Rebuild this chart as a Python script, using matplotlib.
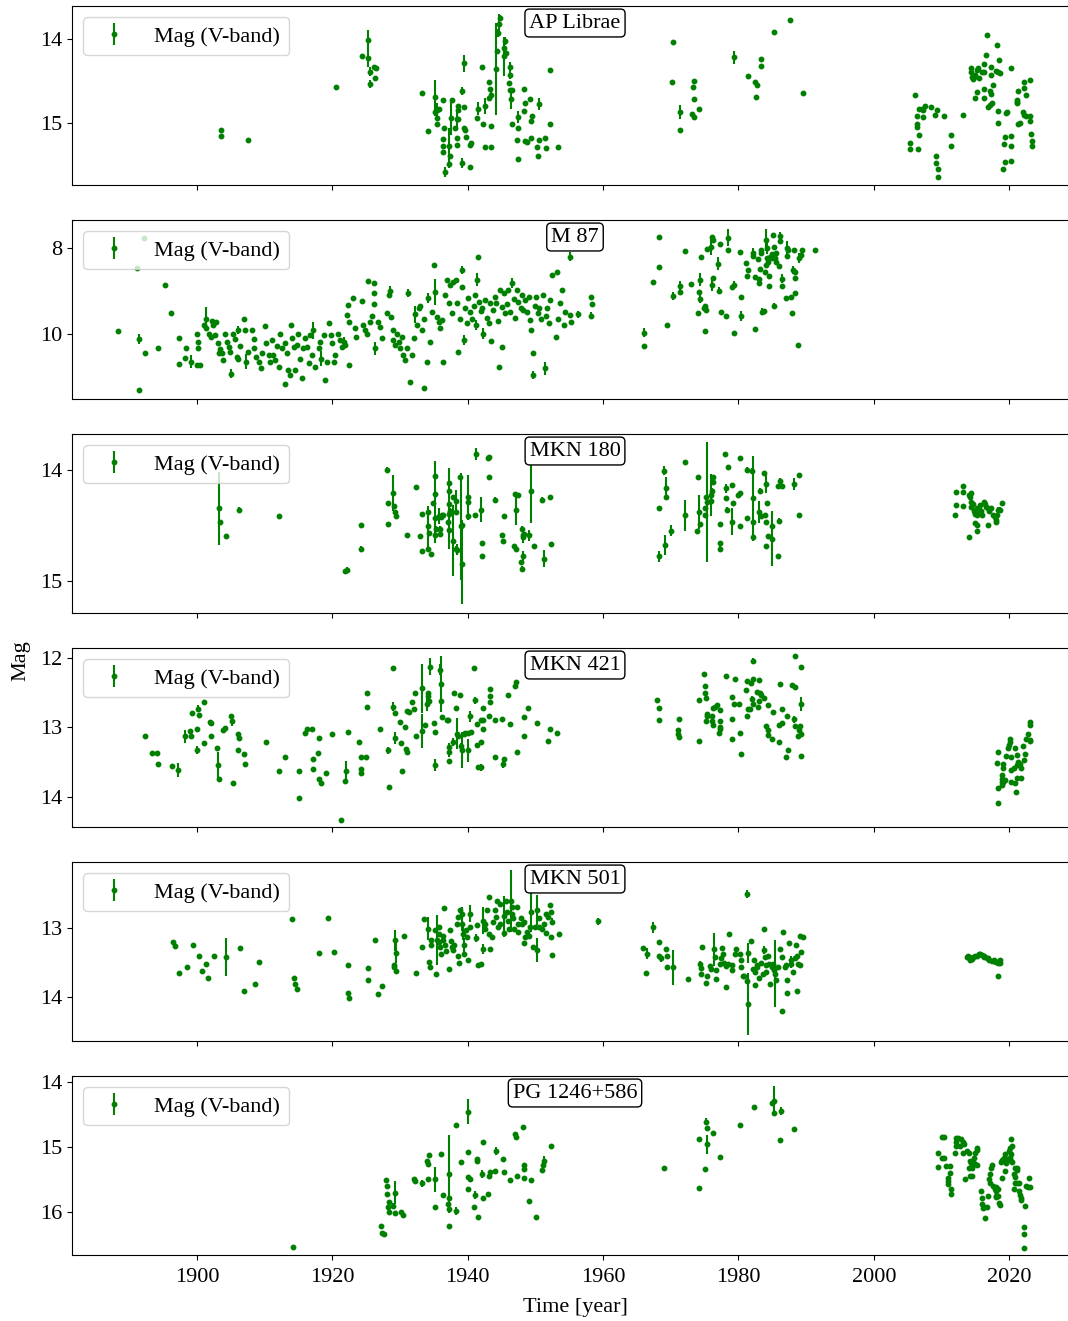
"""
V-band light curves (historic + modern photometry) for six blazars / AGN.
One stacked panel per object, magnitude axis inverted.
"""

import matplotlib

matplotlib.use("Agg")
import matplotlib.pyplot as plt
import numpy as np
from matplotlib.ticker import MultipleLocator

# rows: (year, V mag, mag error)
ap_librae = np.array([
    (1903.5, 15.09, .02), (1903.5, 15.16, .02), (1907.5, 15.21, .02), (1920.5, 14.57, .02),
    (1924.4, 14.20, .02), (1925.3, 14.01, .12), (1925.3, 14.23, .10), (1925.5, 14.39, .05),
    (1925.6, 14.54, .05), (1926.2, 14.34, .02), (1926.5, 14.35, .02), (1926.3, 14.47, .02),
    (1933.2, 14.65, .02), (1934.1, 15.10, .02), (1935.2, 14.69, .20), (1935.2, 14.87, .05),
    (1935.5, 14.85, .08), (1935.7, 14.83, .02), (1935.4, 14.94, .04), (1935.5, 15.02, .02),
    (1936.4, 14.73, .02), (1936.5, 15.06, .02), (1936.4, 15.19, .02), (1936.3, 15.27, .02),
    (1936.3, 15.35, .02), (1936.7, 15.59, .06), (1937.3, 15.28, .22), (1937.4, 15.40, .02),
    (1937.3, 15.49, .05), (1937.7, 14.73, .02), (1937.6, 14.94, .21), (1938.1, 15.06, .02),
    (1938.4, 14.96, .10), (1938.4, 15.18, .02), (1938.4, 15.26, .02), (1938.6, 14.80, .02),
    (1938.6, 14.85, .02), (1938.5, 14.95, .02), (1939.1, 14.62, .05), (1939.4, 14.29, .10),
    (1939.5, 14.81, .02), (1939.4, 15.06, .02), (1939.6, 15.09, .02), (1939.8, 15.17, .02),
    (1940.4, 15.26, .02), (1940.5, 15.24, .02), (1939.2, 15.48, .06), (1940.4, 15.53, .02),
    (1941.3, 14.94, .02), (1941.5, 14.83, .08), (1942.1, 14.33, .02), (1942.5, 14.80, .10),
    (1942.3, 15.02, .02), (1942.5, 15.29, .02), (1943.4, 15.29, .02), (1943.5, 15.04, .02),
    (1943.1, 14.51, .02), (1943.3, 14.60, .02), (1943.1, 14.71, .02), (1943.5, 14.67, .06),
    (1944.2, 14.36, .55), (1944.3, 14.14, .02), (1944.5, 13.93, .05), (1944.6, 13.83, .12),
    (1944.7, 13.75, .03), (1945.3, 14.21, .23), (1945.4, 14.11, .05), (1945.5, 14.03, .05),
    (1945.6, 14.17, .02), (1946.2, 14.33, .05), (1946.3, 14.43, .05), (1946.1, 14.53, .02),
    (1946.3, 14.61, .02), (1946.4, 14.72, .12), (1946.6, 14.61, .02), (1946.6, 15.02, .02),
    (1947.4, 15.06, .02), (1947.5, 14.93, .07), (1947.3, 15.20, .02), (1947.4, 15.43, .02),
    (1948.3, 14.60, .02), (1948.4, 14.76, .02), (1948.3, 14.86, .02), (1948.5, 15.22, .02),
    (1948.8, 15.23, .02), (1949.2, 14.72, .02), (1949.4, 14.98, .02), (1949.5, 14.92, .02),
    (1949.4, 15.18, .02), (1950.2, 15.29, .02), (1950.4, 15.39, .02), (1950.5, 15.20, .02),
    (1950.5, 14.78, .07), (1951.4, 15.18, .02), (1951.6, 15.30, .02), (1952.1, 15.02, .02),
    (1952.2, 14.37, .02), (1953.3, 15.29, .02),
    (1970.3, 14.04, .02), (1970.2, 14.51, .02), (1971.4, 14.87, .08), (1971.3, 15.08, .02),
    (1973.4, 14.50, .02), (1973.3, 14.57, .02), (1973.4, 14.72, .02), (1973.2, 14.89, .02),
    (1973.4, 14.93, .02), (1974.2, 14.83, .02), (1979.4, 14.22, .08), (1981.4, 14.44, .02),
    (1982.5, 14.52, .02), (1982.7, 14.55, .02), (1982.6, 14.69, .02), (1983.4, 14.24, .02),
    (1983.4, 14.32, .02), (1985.3, 13.92, .02), (1987.6, 13.78, .02), (1989.5, 14.64, .02),
    (2006.1, 14.67, .02), (2005.4, 15.24, .02), (2005.4, 15.31, .02), (2006.5, 15.31, .02),
    (2006.3, 14.92, .02), (2006.4, 15.02, .02), (2006.3, 15.05, .02), (2006.6, 15.14, .02),
    (2006.7, 14.83, .02), (2007.1, 14.84, .02), (2007.2, 14.85, .02), (2007.3, 14.93, .02),
    (2007.5, 14.80, .02), (2008.5, 14.81, .02), (2009.0, 14.91, .02), (2009.3, 14.85, .02),
    (2009.2, 15.40, .02), (2009.2, 15.48, .02), (2009.5, 15.55, .02), (2009.4, 15.65, .02),
    (2010.3, 14.92, .02), (2011.4, 15.14, .02), (2011.4, 15.28, .02), (2013.2, 14.91, .02),
    (2014.3, 14.35, .02), (2014.4, 14.39, .02), (2014.5, 14.45, .02), (2014.7, 14.48, .02),
    (2014.8, 14.46, .02), (2015.0, 14.43, .02), (2015.2, 14.37, .02), (2015.4, 14.35, .02),
    (2015.5, 14.47, .02), (2015.9, 14.39, .02), (2016.3, 14.40, .02), (2016.2, 14.30, .02),
    (2016.5, 14.19, .02), (2016.7, 13.95, .02), (2015.2, 14.63, .02), (2015.0, 14.70, .02),
    (2016.2, 14.60, .02), (2016.3, 14.70, .02), (2017.3, 14.34, .02), (2017.3, 14.43, .02),
    (2017.1, 14.62, .02), (2017.3, 14.66, .02), (2016.9, 14.81, .02), (2017.1, 14.79, .02),
    (2017.5, 14.77, .02), (2017.6, 14.55, .02), (2018.2, 14.07, .02), (2018.5, 14.25, .02),
    (2018.1, 14.38, .02), (2018.4, 14.39, .02), (2018.6, 14.41, .02), (2018.3, 14.86, .02),
    (2018.4, 15.00, .02), (2019.6, 14.87, .02), (2019.5, 14.88, .02), (2019.4, 15.17, .02),
    (2020.3, 15.16, .02), (2019.2, 15.25, .02), (2020.3, 15.27, .02), (2020.2, 15.45, .02),
    (2019.3, 15.47, .02), (2019.1, 15.55, .02), (2020.3, 14.35, .02), (2021.1, 14.73, .02),
    (2021.2, 14.75, .02), (2021.3, 14.62, .02), (2021.1, 14.77, .02), (2021.3, 15.02, .02),
    (2021.6, 15.00, .02), (2022.1, 14.87, .02), (2022.2, 14.91, .02), (2022.4, 14.92, .02),
    (2022.2, 14.59, .02), (2022.4, 14.67, .02), (2022.2, 14.51, .02), (2023.1, 14.49, .02),
    (2023.1, 14.92, .02), (2023.1, 14.98, .02), (2023.2, 15.13, .02), (2023.4, 15.22, .02),
    (2023.4, 15.28, .02),
])

m87 = np.array([
    (1888.3, 9.92, .02), (1891.4, 10.12, .12), (1891.5, 11.30, .02), (1891.2, 8.47, .02),
    (1892.2, 7.76, .02), (1892.3, 10.43, .02), (1894.2, 10.32, .02), (1895.3, 8.85, .02),
    (1896.1, 9.50, .02), (1897.3, 10.10, .02), (1897.4, 10.70, .02), (1898.3, 10.55, .02),
    (1898.4, 10.32, .02), (1899.1, 10.64, .15), (1900.0, 9.99, .02), (1900.1, 10.18, .02),
    (1900.2, 10.33, .02), (1900.0, 10.72, .02), (1900.5, 10.71, .02), (1901.0, 9.79, .02),
    (1901.4, 9.64, .26), (1901.4, 9.87, .02), (1901.8, 9.99, .02), (1902.2, 9.70, .02),
    (1902.4, 9.79, .02), (1902.8, 9.73, .02), (1902.1, 10.06, .02), (1902.7, 10.02, .02),
    (1903.1, 10.22, .02), (1903.4, 10.35, .02), (1903.2, 10.45, .02), (1903.7, 10.45, .02),
    (1903.9, 10.60, .02), (1904.2, 9.99, .02), (1904.4, 10.18, .02), (1904.7, 10.30, .02),
    (1904.9, 10.41, .02), (1905.0, 10.92, .10), (1905.4, 9.99, .02), (1905.6, 10.12, .02),
    (1906.0, 9.91, .10), (1905.9, 10.53, .02), (1906.1, 10.57, .02), (1906.4, 10.28, .02),
    (1907.0, 9.64, .02), (1907.1, 9.91, .02), (1907.3, 10.64, .18), (1907.5, 10.41, .02),
    (1908.1, 9.91, .02), (1908.4, 10.12, .02), (1908.5, 10.33, .02), (1908.8, 10.53, .02),
    (1909.1, 10.64, .02), (1909.4, 10.80, .02), (1909.6, 10.45, .02), (1910.0, 9.81, .02),
    (1910.2, 10.22, .02), (1910.6, 10.49, .02), (1910.8, 10.64, .02), (1911.1, 10.14, .02),
    (1911.3, 10.49, .02), (1911.6, 10.60, .02), (1911.8, 10.28, .02), (1912.1, 10.76, .02),
    (1912.3, 9.99, .02), (1912.6, 10.33, .02), (1913.0, 11.17, .02), (1913.0, 10.22, .02),
    (1913.3, 10.45, .02), (1913.4, 10.84, .02), (1913.8, 10.95, .02), (1913.9, 9.79, .02),
    (1914.0, 10.10, .02), (1914.3, 10.30, .02), (1914.5, 10.84, .02), (1914.8, 10.26, .02),
    (1915.0, 9.99, .02), (1915.2, 10.57, .02), (1915.5, 11.03, .02), (1915.7, 10.33, .02),
    (1916.0, 10.10, .02), (1916.2, 10.30, .02), (1916.5, 10.68, .02), (1916.7, 10.02, .02),
    (1917.0, 10.49, .02), (1917.1, 9.91, .20), (1917.4, 10.76, .02), (1918.0, 10.33, .02),
    (1918.2, 10.18, .02), (1918.4, 10.57, .17), (1918.7, 10.02, .02), (1918.9, 11.07, .02),
    (1919.2, 10.64, .02), (1919.5, 9.75, .02), (1919.8, 10.02, .02), (1920.0, 10.22, .02),
    (1920.2, 10.64, .02), (1920.4, 10.49, .02), (1920.9, 9.99, .02), (1921.2, 10.14, .02),
    (1921.4, 10.30, .02), (1921.7, 10.18, .12), (1921.9, 10.26, .02), (1922.1, 9.56, .02),
    (1922.3, 9.33, .02), (1922.4, 9.71, .02), (1922.5, 10.72, .02), (1923.0, 9.17, .02),
    (1923.3, 9.87, .02), (1923.5, 10.06, .02), (1924.4, 9.23, .02), (1924.6, 9.79, .02),
    (1924.9, 9.91, .02), (1925.1, 9.99, .02), (1925.3, 8.76, .02), (1925.6, 9.71, .02),
    (1925.8, 9.58, .02), (1926.1, 8.81, .02), (1926.1, 9.05, .02), (1926.2, 9.31, .02),
    (1926.3, 10.33, .15), (1926.8, 9.71, .02), (1927.1, 9.83, .02), (1927.3, 10.10, .02),
    (1928.1, 9.52, .02), (1928.3, 9.09, .02), (1928.5, 9.00, .12), (1928.7, 9.60, .02),
    (1928.9, 9.91, .02), (1929.0, 10.14, .02), (1929.2, 10.26, .02), (1929.5, 9.99, .02),
    (1929.8, 10.18, .02), (1930.0, 10.33, .02), (1930.3, 10.06, .02), (1930.5, 10.49, .02),
    (1930.8, 10.60, .02), (1931.0, 10.33, .02), (1931.2, 9.05, .10), (1931.5, 11.11, .02),
    (1931.8, 10.49, .02), (1932.0, 10.10, .02), (1932.2, 9.54, .20), (1932.5, 9.79, .02),
    (1932.8, 9.40, .02), (1933.0, 9.35, .02), (1933.2, 9.91, .02), (1933.5, 11.26, .02),
    (1933.6, 9.64, .02), (1934.0, 10.64, .02), (1934.2, 9.17, .12), (1934.5, 10.18, .02),
    (1934.7, 9.48, .02), (1935.0, 8.40, .02), (1935.1, 9.02, .30), (1935.4, 9.61, .02),
    (1935.7, 9.71, .02), (1935.9, 9.87, .02), (1936.2, 9.68, .02), (1936.4, 10.64, .02),
    (1936.7, 9.09, .02), (1936.9, 8.74, .02), (1937.2, 9.29, .02), (1937.4, 8.86, .02),
    (1937.7, 9.50, .02), (1937.9, 8.78, .02), (1938.2, 8.74, .02), (1938.4, 9.29, .02),
    (1938.6, 10.41, .02), (1938.9, 9.66, .02), (1939.1, 8.90, .02), (1939.2, 8.51, .10),
    (1939.4, 10.14, .12), (1939.6, 9.40, .02), (1939.9, 9.75, .02), (1940.1, 9.17, .02),
    (1940.4, 9.48, .02), (1940.6, 9.64, .02), (1940.9, 9.36, .02), (1941.1, 9.09, .02),
    (1941.2, 9.79, .12), (1941.4, 8.74, .15), (1941.5, 8.20, .02), (1941.6, 9.25, .02),
    (1941.9, 9.47, .02), (1942.1, 9.40, .02), (1942.3, 9.99, .12), (1942.6, 9.20, .02),
    (1942.8, 9.62, .02), (1943.1, 9.75, .02), (1943.3, 9.29, .02), (1943.5, 10.16, .02),
    (1943.7, 9.44, .02), (1944.0, 9.14, .02), (1944.2, 9.28, .02), (1944.5, 9.70, .02),
    (1944.6, 10.76, .02), (1944.8, 8.98, .02), (1945.0, 10.30, .02), (1945.1, 9.38, .02),
    (1945.3, 9.05, .02), (1945.5, 9.52, .02), (1945.8, 9.30, .02), (1946.0, 8.98, .02),
    (1946.3, 9.48, .02), (1946.5, 8.82, .12), (1946.8, 9.19, .02), (1947.0, 9.63, .02),
    (1947.3, 8.98, .02), (1947.5, 9.25, .02), (1947.8, 9.40, .02), (1948.0, 9.09, .02),
    (1948.2, 9.45, .02), (1948.5, 9.21, .02), (1948.7, 9.48, .02), (1949.0, 9.13, .02),
    (1949.2, 9.68, .02), (1949.4, 9.91, .02), (1949.6, 10.43, .02), (1949.6, 10.95, .10),
    (1949.9, 9.35, .02), (1950.1, 9.15, .02), (1950.4, 9.51, .02), (1950.6, 9.40, .02),
    (1950.9, 9.64, .02), (1951.1, 9.09, .02), (1951.4, 10.80, .15), (1951.5, 9.59, .02),
    (1951.7, 9.40, .02), (1952.0, 9.75, .02), (1952.2, 9.21, .02), (1952.5, 8.63, .02),
    (1953.0, 10.06, .02), (1953.2, 8.57, .02), (1953.4, 9.66, .02), (1953.7, 9.27, .02),
    (1953.9, 8.98, .02), (1954.2, 9.79, .02), (1954.4, 9.48, .02), (1955.1, 8.20, .10),
    (1955.1, 9.56, .02), (1955.3, 9.73, .02), (1956.3, 9.54, .08), (1958.2, 9.13, .02),
    (1958.3, 9.30, .02), (1958.2, 9.57, .08),
    (1966.1, 9.97, .10), (1966.0, 10.28, .02), (1967.3, 8.80, .02), (1968.2, 7.75, .02),
    (1968.3, 8.45, .02), (1969.5, 9.80, .02), (1970.4, 9.12, .10), (1971.3, 8.88, .12),
    (1971.3, 9.03, .02), (1972.1, 8.06, .02), (1973.0, 8.84, .02), (1974.0, 9.50, .02),
    (1974.2, 9.02, .02), (1974.3, 8.74, .15), (1974.3, 9.19, .10), (1974.4, 8.22, .02),
    (1974.9, 9.40, .02), (1975.1, 9.36, .02), (1975.2, 9.45, .02), (1975.0, 9.94, .02),
    (1975.4, 8.02, .02), (1976.0, 7.97, .20), (1976.1, 7.74, .02), (1976.2, 7.81, .02),
    (1976.1, 8.85, .15), (1976.3, 8.69, .02), (1977.0, 8.37, .15), (1977.1, 8.99, .08),
    (1977.3, 7.91, .02), (1977.4, 9.49, .02), (1978.2, 9.59, .02), (1978.4, 7.76, .20),
    (1978.5, 8.05, .02), (1979.1, 8.90, .02), (1979.3, 8.85, .08), (1979.3, 9.97, .02),
    (1980.2, 8.09, .02), (1980.3, 9.58, .12), (1980.3, 9.13, .02), (1981.1, 8.35, .02),
    (1981.3, 8.65, .02), (1981.4, 8.51, .02), (1982.1, 8.11, .10), (1982.2, 8.18, .02),
    (1982.4, 8.67, .02), (1982.5, 9.88, .02), (1982.9, 8.26, .02), (1983.0, 8.73, .02),
    (1983.1, 8.82, .02), (1983.2, 8.50, .02), (1983.3, 8.05, .02), (1983.4, 8.11, .02),
    (1983.5, 9.48, .08), (1983.7, 9.46, .02), (1983.9, 8.55, .02), (1984.0, 8.40, .02),
    (1984.1, 7.81, .25), (1984.2, 8.01, .12), (1984.2, 8.24, .02), (1984.4, 8.32, .02),
    (1984.5, 8.64, .02), (1984.5, 8.88, .02), (1984.6, 8.22, .02), (1984.9, 8.14, .02),
    (1985.0, 8.24, .02), (1985.1, 7.71, .02), (1985.2, 7.97, .02), (1985.3, 9.35, .08),
    (1985.4, 8.24, .02), (1985.5, 8.12, .02), (1985.6, 8.32, .02), (1986.0, 8.41, .02),
    (1986.1, 7.72, .08), (1986.2, 7.83, .02), (1986.4, 8.88, .02), (1986.5, 8.71, .10),
    (1987.0, 9.17, .02), (1987.2, 8.01, .18), (1987.2, 8.18, .02), (1987.3, 8.05, .02),
    (1987.8, 9.13, .02), (1987.9, 9.50, .02), (1988.1, 8.51, .10), (1988.3, 8.55, .02),
    (1988.4, 9.05, .02), (1988.2, 8.05, .02), (1988.3, 8.69, .02), (1988.8, 10.26, .02),
    (1989.0, 8.24, .12), (1989.2, 8.16, .02), (1989.4, 8.05, .02), (1991.3, 8.05, .02),
])

mkn_180 = np.array([
    (1903.3, 14.35, .33), (1903.4, 14.47, .02), (1904.3, 14.60, .02), (1906.2, 14.36, .02),
    (1912.1, 14.42, .02), (1921.9, 14.91, .02), (1922.1, 14.90, .02), (1924.2, 14.71, .02),
    (1924.3, 14.50, .02), (1928.1, 14.00, .02), (1928.2, 14.30, .02), (1928.2, 14.49, .02),
    (1929.0, 14.21, .16), (1929.1, 14.33, .02), (1929.3, 14.38, .02), (1929.4, 14.42, .02),
    (1931.0, 14.59, .02), (1932.3, 14.16, .02), (1933.0, 14.60, .02), (1933.2, 14.40, .02),
    (1933.2, 14.73, .02), (1934.1, 14.51, .18), (1934.2, 14.38, .02), (1934.3, 14.57, .02),
    (1934.2, 14.71, .02), (1934.6, 14.76, .02), (1934.9, 14.30, .02), (1935.1, 14.22, .02),
    (1935.2, 14.06, .14), (1935.2, 14.44, .22), (1935.1, 14.59, .02), (1935.3, 14.53, .02),
    (1935.8, 14.42, .07), (1935.9, 14.53, .02), (1936.1, 14.43, .02), (1936.2, 14.41, .02),
    (1936.3, 14.41, .02), (1935.9, 14.58, .02), (1937.1, 14.47, .02), (1937.2, 14.54, .17),
    (1937.3, 14.31, .32), (1937.3, 14.19, .02), (1937.3, 14.12, .02), (1937.3, 14.40, .02),
    (1937.4, 14.37, .02), (1937.9, 14.25, .02), (1937.9, 14.64, .32), (1938.2, 14.38, .02),
    (1938.3, 14.28, .10), (1938.3, 14.71, .02), (1938.4, 14.72, .05), (1938.9, 14.07, .02),
    (1939.1, 14.50, .05), (1939.0, 14.51, .48), (1939.2, 14.85, .36), (1940.0, 14.25, .20),
    (1940.1, 14.29, .02), (1940.0, 14.42, .02), (1941.2, 13.86, .05), (1941.1, 14.41, .02),
    (1941.9, 14.36, .11), (1942.1, 14.66, .02), (1942.1, 14.78, .02), (1943.0, 13.90, .02),
    (1943.2, 13.89, .02), (1943.2, 14.07, .02), (1944.0, 14.27, .02), (1945.1, 14.59, .02),
    (1945.2, 14.64, .02), (1945.4, 14.42, .02), (1947.0, 14.22, .02), (1947.4, 14.23, .02),
    (1947.1, 14.36, .14), (1946.9, 14.69, .02), (1947.2, 14.71, .02), (1948.0, 14.53, .02),
    (1948.1, 14.59, .02), (1948.3, 14.58, .02), (1948.1, 14.61, .05), (1947.9, 14.83, .02),
    (1948.1, 14.78, .05), (1948.0, 14.89, .02), (1949.1, 14.59, .05), (1949.3, 14.19, .29),
    (1949.8, 14.69, .02), (1951.0, 14.27, .02), (1951.3, 14.80, .08), (1952.2, 14.25, .02),
    (1952.3, 14.67, .02),
    (1968.2, 14.78, .05), (1969.1, 14.68, .09), (1968.3, 14.35, .02), (1969.0, 14.01, .04),
    (1969.3, 14.17, .10), (1969.3, 14.25, .02), (1970.0, 14.55, .05), (1972.1, 13.93, .02),
    (1972.1, 14.41, .14), (1974.0, 14.07, .02), (1973.9, 14.55, .02), (1974.2, 14.38, .15),
    (1974.3, 14.49, .02), (1975.0, 14.35, .02), (1975.2, 14.25, .02), (1975.3, 14.29, .54),
    (1975.1, 14.41, .02), (1976.0, 14.23, .19), (1976.1, 14.19, .02), (1976.3, 14.11, .02),
    (1976.3, 14.07, .02), (1975.9, 14.28, .02), (1977.3, 14.49, .02), (1977.2, 14.66, .02),
    (1977.2, 14.71, .02), (1978.0, 13.86, .02), (1978.2, 14.17, .04), (1978.1, 14.26, .02),
    (1978.3, 14.36, .02), (1978.5, 13.98, .02), (1979.1, 14.14, .02), (1979.2, 14.30, .02),
    (1979.1, 14.47, .12), (1980.0, 14.23, .02), (1980.2, 14.21, .02), (1980.2, 13.90, .02),
    (1980.2, 14.51, .02), (1981.3, 14.44, .02), (1981.3, 14.00, .02), (1982.0, 14.01, .02),
    (1982.2, 14.26, .38), (1982.2, 14.47, .02), (1982.1, 14.61, .02), (1983.1, 14.38, .10),
    (1983.2, 14.19, .02), (1983.3, 14.42, .02), (1983.8, 14.03, .02), (1984.1, 14.13, .08),
    (1984.2, 14.30, .02), (1983.9, 14.41, .02), (1984.0, 14.47, .02), (1984.1, 14.69, .02),
    (1984.4, 14.60, .02), (1984.9, 14.62, .25), (1985.0, 14.51, .02), (1986.0, 14.46, .02),
    (1985.8, 14.78, .02), (1985.9, 14.15, .02), (1986.4, 14.15, .02), (1986.2, 14.10, .02),
    (1988.2, 14.13, .05), (1989.0, 14.05, .02), (1988.9, 14.41, .02),
    (2012.0, 14.41, .02), (2012.1, 14.20, .02), (2012.2, 14.32, .02), (2013.1, 14.15, .02),
    (2013.2, 14.20, .02), (2013.1, 14.33, .02), (2014.0, 14.61, .02), (2014.1, 14.23, .02),
    (2014.3, 14.21, .02), (2014.2, 14.25, .02), (2014.4, 14.29, .02), (2014.3, 14.34, .02),
    (2014.7, 14.31, .02), (2014.8, 14.37, .02), (2014.9, 14.40, .02), (2015.1, 14.38, .02),
    (2015.2, 14.41, .02), (2014.9, 14.48, .02), (2015.2, 14.50, .02), (2015.2, 14.55, .02),
    (2015.3, 14.35, .02), (2015.7, 14.32, .02), (2015.8, 14.37, .02), (2015.9, 14.41, .02),
    (2016.2, 14.29, .02), (2016.4, 14.31, .02), (2016.5, 14.34, .02), (2016.8, 14.35, .02),
    (2017.0, 14.37, .02), (2017.3, 14.35, .02), (2016.9, 14.50, .02), (2017.6, 14.41, .02),
    (2017.9, 14.43, .02), (2018.0, 14.45, .02), (2018.1, 14.47, .02), (2018.2, 14.41, .02),
    (2018.4, 14.36, .02), (2018.7, 14.36, .02), (2018.9, 14.30, .02),
])

mkn_421 = np.array([
    (1892.4, 13.13, .02), (1893.3, 13.37, .02), (1894.1, 13.37, .02), (1894.2, 13.53, .02),
    (1896.3, 13.55, .02), (1897.2, 13.61, .10), (1898.2, 13.13, .09), (1899.0, 13.05, .02),
    (1899.1, 13.13, .02), (1899.3, 12.79, .02), (1900.0, 13.02, .02), (1900.0, 13.32, .06),
    (1900.1, 12.73, .05), (1900.3, 12.82, .02), (1901.1, 12.64, .02), (1901.1, 13.22, .02),
    (1902.0, 12.92, .02), (1902.1, 12.94, .02), (1902.1, 13.13, .02), (1903.0, 13.29, .02),
    (1903.1, 13.54, .19), (1903.2, 13.74, .02), (1903.9, 13.04, .02), (1904.2, 13.01, .02),
    (1905.0, 12.83, .02), (1905.2, 12.91, .07), (1905.3, 13.80, .02), (1906.1, 13.10, .02),
    (1906.2, 13.15, .02), (1906.1, 13.33, .02), (1907.0, 13.38, .02), (1907.1, 13.53, .02),
    (1910.2, 13.21, .02), (1912.1, 13.63, .02), (1913.0, 13.42, .02), (1915.1, 13.63, .02),
    (1915.1, 14.01, .02), (1916.0, 13.08, .02), (1916.2, 13.02, .02), (1917.0, 13.03, .02),
    (1917.1, 13.45, .02), (1917.1, 13.60, .02), (1917.9, 13.37, .02), (1918.1, 13.15, .02),
    (1918.0, 13.74, .02), (1918.3, 13.80, .02), (1919.1, 13.65, .02), (1920.0, 13.09, .02),
    (1921.3, 14.33, .02), (1922.0, 13.62, .14), (1921.9, 13.77, .02), (1922.3, 13.07, .02),
    (1924.0, 13.21, .02), (1924.3, 13.43, .02), (1925.0, 13.43, .02), (1924.2, 13.60, .02),
    (1924.2, 13.65, .02), (1925.1, 12.70, .02), (1925.1, 12.50, .02), (1927.1, 13.03, .02),
    (1928.2, 13.33, .05), (1928.3, 13.86, .02), (1929.0, 12.15, .02), (1929.0, 12.70, .06),
    (1929.2, 12.80, .02), (1929.2, 13.15, .09), (1930.0, 12.92, .02), (1930.2, 13.22, .02),
    (1930.3, 13.62, .02), (1930.8, 13.00, .02), (1930.9, 13.31, .02), (1931.0, 13.36, .02),
    (1931.0, 12.77, .02), (1931.3, 12.78, .02), (1931.8, 12.63, .02), (1932.1, 12.73, .02),
    (1932.2, 12.50, .02), (1932.3, 13.13, .02), (1933.3, 12.44, .35), (1933.2, 13.05, .24),
    (1933.7, 12.97, .02), (1934.0, 12.67, .10), (1934.1, 12.55, .02), (1934.2, 12.50, .02),
    (1934.3, 12.62, .02), (1934.4, 12.13, .12), (1935.0, 12.94, .02), (1935.1, 13.07, .02),
    (1935.2, 13.54, .08), (1935.9, 12.17, .08), (1936.1, 12.38, .40), (1936.1, 12.62, .02),
    (1936.2, 12.85, .02), (1937.0, 12.89, .02), (1937.1, 12.90, .02), (1937.2, 13.28, .06),
    (1937.3, 13.36, .06), (1937.3, 13.48, .02), (1937.9, 13.21, .06), (1938.0, 12.50, .02),
    (1938.2, 12.72, .02), (1938.4, 13.09, .22), (1938.6, 13.13, .02), (1938.9, 12.54, .02),
    (1939.0, 13.27, .05), (1939.1, 13.32, .26), (1939.4, 13.10, .02), (1939.6, 13.08, .02),
    (1940.0, 13.33, .17), (1940.1, 13.08, .02), (1940.3, 12.84, .08), (1940.5, 13.06, .02),
    (1941.0, 12.14, .02), (1941.1, 12.61, .05), (1941.3, 12.95, .02), (1941.4, 13.25, .02),
    (1941.5, 13.57, .02), (1941.9, 13.57, .05), (1942.0, 12.90, .02), (1942.2, 12.89, .02),
    (1942.0, 13.21, .02), (1942.2, 13.03, .02), (1942.2, 12.72, .02), (1943.1, 12.83, .02),
    (1943.3, 12.55, .02), (1943.3, 12.45, .02), (1943.3, 12.64, .02), (1944.0, 12.90, .02),
    (1944.1, 13.43, .02), (1945.1, 12.88, .02), (1945.2, 13.53, .05), (1945.3, 13.46, .02),
    (1946.0, 12.53, .02), (1946.3, 12.95, .02), (1947.0, 12.41, .02), (1947.2, 12.35, .02),
    (1947.3, 13.35, .02), (1948.3, 12.85, .02), (1948.3, 13.13, .02), (1948.9, 12.72, .02),
    (1950.2, 12.93, .02), (1951.9, 13.20, .02), (1952.2, 13.03, .02), (1953.2, 13.08, .02),
    (1968.0, 12.61, .02), (1968.2, 12.72, .02), (1968.3, 12.89, .02), (1971.2, 12.88, .02),
    (1971.0, 13.04, .02), (1971.1, 13.10, .02), (1971.2, 13.14, .02), (1974.1, 13.19, .02),
    (1974.1, 12.60, .02), (1974.9, 12.23, .02), (1975.1, 12.41, .02), (1975.1, 12.50, .02),
    (1975.2, 12.58, .02), (1975.3, 12.81, .02), (1975.4, 12.83, .02), (1975.2, 12.91, .02),
    (1976.1, 12.84, .02), (1976.1, 12.91, .02), (1976.2, 12.97, .02), (1976.3, 12.72, .02),
    (1976.5, 12.70, .02), (1976.9, 12.68, .02), (1977.2, 12.75, .02), (1977.2, 12.91, .02),
    (1977.2, 12.99, .02), (1977.3, 13.02, .02), (1977.1, 13.08, .02), (1978.2, 12.26, .02),
    (1979.5, 12.30, .02), (1979.1, 12.57, .02), (1979.3, 12.66, .02), (1980.1, 12.66, .02),
    (1979.1, 12.88, .02), (1979.1, 13.17, .02), (1980.2, 13.08, .02), (1980.3, 13.38, .02),
    (1981.2, 12.34, .02), (1981.8, 12.36, .02), (1982.1, 12.31, .02), (1983.0, 12.32, .02),
    (1981.1, 12.46, .02), (1982.2, 12.05, .04), (1982.0, 12.59, .04), (1982.2, 12.66, .02),
    (1981.4, 12.74, .02), (1981.7, 12.73, .02), (1981.3, 12.84, .02), (1982.8, 12.49, .02),
    (1983.2, 12.51, .02), (1983.4, 12.54, .02), (1983.7, 12.58, .02), (1983.0, 12.62, .02),
    (1982.9, 12.71, .02), (1984.3, 12.68, .02), (1984.0, 12.98, .02), (1984.3, 13.04, .02),
    (1984.4, 13.11, .02), (1985.0, 13.17, .02), (1985.1, 12.78, .02), (1986.1, 12.37, .02),
    (1986.4, 12.73, .02), (1986.0, 12.96, .02), (1986.4, 12.94, .02), (1986.0, 13.21, .02),
    (1987.1, 12.84, .02), (1987.3, 13.32, .02), (1987.0, 13.42, .02), (1987.9, 12.39, .02),
    (1988.3, 12.42, .02), (1988.3, 11.98, .02), (1988.2, 12.88, .05), (1988.3, 12.98, .02),
    (1989.2, 12.66, .10), (1989.1, 12.98, .02), (1989.0, 13.04, .02), (1988.8, 13.12, .02),
    (1989.2, 13.10, .02), (1989.2, 13.41, .02), (1989.3, 12.13, .02),
    (2018.4, 14.08, .02), (2018.3, 13.87, .02), (2018.2, 13.51, .02), (2018.3, 13.36, .02),
    (2018.9, 13.68, .02), (2019.0, 13.74, .02), (2019.1, 13.78, .02), (2018.9, 13.79, .02),
    (2019.3, 13.76, .02), (2019.0, 13.82, .02), (2019.1, 13.53, .02), (2019.1, 13.58, .02),
    (2019.5, 13.41, .02), (2019.8, 13.30, .02), (2020.0, 13.25, .02), (2020.1, 13.17, .02),
    (2020.1, 13.21, .02), (2020.2, 13.42, .02), (2020.8, 13.30, .02), (2021.1, 13.39, .02),
    (2020.3, 13.61, .02), (2020.7, 13.58, .02), (2021.1, 13.54, .02), (2021.3, 13.50, .02),
    (2021.6, 13.52, .02), (2021.8, 13.58, .02), (2020.3, 13.79, .02), (2020.8, 13.80, .02),
    (2021.1, 13.72, .02), (2021.7, 13.73, .02), (2021.0, 13.93, .02), (2022.1, 13.26, .02),
    (2022.3, 13.38, .02), (2022.2, 13.47, .02), (2022.5, 13.17, .02), (2023.0, 13.18, .02),
    (2023.1, 13.20, .02), (2022.8, 13.09, .02), (2023.0, 12.92, .02), (2023.1, 12.96, .02),
])

mkn_501 = np.array([
    (1896.5, 13.20, .02), (1896.8, 13.26, .02), (1897.4, 13.65, .02), (1898.5, 13.57, .02),
    (1899.4, 13.24, .02), (1900.3, 13.41, .02), (1900.7, 13.62, .02), (1901.4, 13.52, .02),
    (1901.6, 13.73, .02), (1902.5, 13.40, .02), (1904.3, 13.42, .27), (1906.4, 13.29, .02),
    (1906.9, 13.91, .02), (1908.6, 13.81, .02), (1909.1, 13.49, .02), (1914.0, 12.87, .02),
    (1914.4, 13.73, .02), (1914.5, 13.81, .02), (1914.8, 13.88, .02), (1918.1, 13.36, .02),
    (1919.3, 12.86, .02), (1920.2, 13.34, .02), (1922.3, 13.53, .02), (1922.3, 13.94, .02),
    (1922.5, 14.01, .02), (1925.2, 13.58, .02), (1925.3, 13.75, .02), (1926.3, 13.18, .02),
    (1926.7, 13.96, .02), (1927.3, 13.84, .02), (1929.1, 13.53, .02), (1929.1, 13.57, .02),
    (1929.3, 13.18, .15), (1929.4, 13.36, .15), (1929.4, 13.62, .02), (1930.6, 13.11, .02),
    (1932.3, 13.65, .02), (1933.2, 13.27, .02), (1933.6, 12.87, .02), (1934.1, 13.01, .17),
    (1934.3, 13.49, .02), (1934.5, 13.56, .02), (1934.6, 13.18, .02), (1934.6, 13.24, .02),
    (1935.1, 13.03, .02), (1935.3, 13.66, .02), (1935.4, 13.17, .36), (1935.7, 12.99, .02),
    (1935.7, 13.08, .02), (1935.7, 13.20, .02), (1935.9, 13.27, .02), (1936.1, 13.37, .02),
    (1936.4, 13.18, .02), (1936.4, 13.12, .02), (1936.7, 13.25, .02), (1936.5, 12.71, .02),
    (1936.8, 13.33, .02), (1937.2, 13.60, .02), (1937.4, 13.03, .02), (1937.6, 13.19, .02),
    (1937.7, 13.28, .02), (1937.8, 13.32, .02), (1938.0, 13.24, .02), (1938.4, 12.94, .02),
    (1938.5, 12.84, .02), (1938.5, 13.41, .02), (1938.7, 13.51, .02), (1938.8, 12.74, .02),
    (1939.1, 12.79, .10), (1939.2, 12.94, .10), (1939.3, 13.08, .10), (1939.4, 13.25, .10),
    (1939.5, 13.37, .02), (1939.8, 13.03, .02), (1939.9, 13.13, .02), (1940.1, 13.46, .02),
    (1940.3, 12.79, .12), (1940.4, 12.99, .02), (1941.2, 13.14, .06), (1941.3, 12.95, .02),
    (1941.5, 13.54, .02), (1942.0, 13.52, .02), (1942.2, 13.30, .07), (1942.3, 12.89, .20),
    (1942.5, 12.94, .02), (1942.5, 13.01, .02), (1942.8, 12.73, .02), (1943.1, 13.08, .02),
    (1943.2, 12.55, .02), (1943.3, 13.30, .02), (1943.6, 13.13, .02), (1943.7, 12.91, .02),
    (1944.1, 12.74, .02), (1944.2, 12.84, .02), (1944.3, 12.60, .02), (1944.5, 12.99, .02),
    (1944.7, 12.65, .02), (1944.8, 12.94, .02), (1945.4, 12.83, .30), (1945.4, 13.07, .02),
    (1945.6, 12.60, .02), (1945.8, 12.77, .02), (1945.9, 12.89, .02), (1946.1, 13.01, .02),
    (1946.4, 12.60, .45), (1946.5, 12.70, .02), (1946.6, 12.79, .02), (1946.7, 12.86, .02),
    (1946.9, 13.01, .02), (1947.3, 12.70, .02), (1947.4, 13.06, .02), (1947.5, 12.94, .02),
    (1947.8, 12.86, .02), (1948.0, 12.94, .02), (1948.3, 12.91, .02), (1948.3, 13.21, .02),
    (1948.5, 13.13, .02), (1948.7, 13.06, .02), (1949.0, 13.11, .02), (1949.2, 12.99, .02),
    (1949.4, 12.77, .29), (1949.6, 13.27, .02), (1949.9, 12.99, .02), (1950.2, 13.32, .17),
    (1950.3, 12.74, .22), (1950.5, 12.86, .02), (1950.6, 12.99, .02), (1951.0, 13.01, .02),
    (1951.2, 12.94, .02), (1951.5, 12.79, .02), (1951.6, 13.07, .02), (1951.9, 12.84, .02),
    (1952.2, 12.67, .02), (1952.3, 12.77, .02), (1952.5, 12.91, .05), (1952.3, 13.13, .02),
    (1952.5, 13.39, .02), (1953.5, 13.09, .02),
    (1959.3, 12.90, .05), (1981.2, 12.51, .06), (1981.4, 14.10, .45), (1965.9, 13.29, .02),
    (1966.5, 13.37, .08), (1966.4, 13.65, .02), (1967.4, 12.99, .08), (1968.3, 13.20, .02),
    (1968.2, 13.40, .02), (1968.5, 13.44, .05), (1969.3, 13.30, .02), (1969.4, 13.41, .02),
    (1969.5, 13.57, .02), (1970.4, 13.57, .25), (1972.5, 13.74, .02), (1974.3, 13.52, .04),
    (1974.4, 13.58, .04), (1974.6, 13.27, .02), (1974.5, 13.66, .02), (1975.2, 13.80, .02),
    (1975.4, 13.70, .02), (1975.8, 13.55, .02), (1976.0, 13.59, .02), (1976.4, 13.31, .24),
    (1976.5, 13.42, .02), (1976.7, 13.61, .02), (1976.7, 13.74, .02), (1977.2, 13.52, .02),
    (1977.4, 13.44, .02), (1977.6, 13.29, .02), (1977.7, 13.37, .02), (1977.9, 13.51, .02),
    (1978.2, 13.55, .02), (1978.1, 13.85, .02), (1978.6, 13.08, .02), (1978.5, 13.52, .02),
    (1979.0, 13.54, .02), (1979.1, 13.61, .02), (1979.5, 13.38, .02), (1979.7, 13.30, .02),
    (1980.2, 13.38, .02), (1980.3, 13.47, .02), (1980.4, 13.57, .02), (1980.6, 13.70, .02),
    (1980.8, 13.69, .02), (1981.2, 13.77, .02), (1981.4, 13.36, .14), (1981.8, 13.19, .02),
    (1982.1, 13.60, .02), (1982.3, 13.47, .02), (1982.4, 13.64, .02), (1982.5, 13.83, .02),
    (1982.7, 13.57, .02), (1982.8, 13.54, .02), (1983.1, 13.73, .02), (1983.3, 13.51, .02),
    (1983.6, 13.66, .02), (1983.7, 13.32, .06), (1983.8, 13.02, .02), (1983.9, 13.42, .02),
    (1984.0, 13.53, .02), (1984.1, 13.64, .02), (1984.4, 13.40, .02), (1984.5, 13.52, .02),
    (1984.6, 13.81, .02), (1984.9, 13.57, .02), (1985.1, 13.52, .02), (1985.3, 13.61, .02),
    (1985.4, 13.66, .48), (1985.6, 13.76, .02), (1985.8, 13.57, .02), (1986.2, 13.30, .02),
    (1986.4, 13.42, .02), (1986.5, 14.21, .02), (1986.6, 13.06, .02), (1986.8, 13.57, .02),
    (1987.0, 13.54, .02), (1987.1, 13.95, .02), (1987.2, 13.76, .02), (1987.5, 13.22, .02),
    (1987.7, 13.52, .06), (1987.8, 13.47, .06), (1988.1, 13.64, .02), (1988.3, 13.44, .02),
    (1988.5, 13.25, .02), (1988.6, 13.40, .02), (1988.6, 13.92, .02), (1988.8, 13.52, .02),
    (1989.1, 13.53, .02), (1989.3, 13.35, .02), (1989.1, 13.12, .02), (1989.5, 13.13, .02),
    (2013.8, 13.42, .02), (2014.1, 13.44, .02), (2014.3, 13.43, .02), (2014.7, 13.42, .02),
    (2014.9, 13.41, .02), (2015.3, 13.40, .02), (2015.7, 13.37, .02), (2015.9, 13.39, .02),
    (2016.3, 13.42, .02), (2016.7, 13.43, .02), (2017.0, 13.46, .02), (2017.4, 13.48, .02),
    (2017.8, 13.48, .02), (2018.1, 13.49, .02), (2018.5, 13.48, .02), (2018.7, 13.47, .02),
    (2013.9, 13.40, .02), (2014.2, 13.46, .02), (2014.5, 13.45, .02), (2015.5, 13.38, .02),
    (2016.2, 13.41, .02), (2016.8, 13.44, .02), (2017.7, 13.47, .02), (2018.3, 13.51, .02),
    (2018.6, 13.51, .02), (2018.4, 13.69, .02),
])

pg_1246 = np.array([
    (1914.2, 16.54, .02), (1927.2, 16.22, .02), (1927.3, 16.32, .02), (1927.6, 16.33, .02),
    (1928.0, 15.51, .02), (1928.1, 15.60, .02), (1928.1, 15.72, .02), (1928.3, 15.85, .02),
    (1928.2, 15.92, .02), (1928.4, 16.00, .02), (1929.0, 15.91, .05), (1929.3, 15.70, .18),
    (1929.3, 16.02, .02), (1930.2, 16.00, .02), (1930.4, 16.05, .02), (1932.1, 15.49, .02),
    (1932.2, 15.52, .02), (1933.3, 15.56, .05), (1934.1, 15.50, .02), (1934.0, 15.22, .02),
    (1934.1, 15.26, .02), (1934.3, 15.13, .02), (1935.1, 15.50, .19), (1935.2, 15.92, .02),
    (1936.0, 15.11, .02), (1936.3, 15.74, .02), (1937.2, 15.41, .60), (1937.3, 15.79, .02),
    (1937.1, 15.87, .02), (1937.3, 15.96, .02), (1937.2, 16.21, .02), (1938.2, 15.98, .06),
    (1938.2, 14.67, .02), (1940.0, 14.46, .19), (1939.0, 15.23, .02), (1940.0, 15.08, .02),
    (1940.1, 15.46, .02), (1940.3, 15.50, .02), (1940.1, 15.65, .02), (1941.1, 15.74, .06),
    (1941.0, 15.92, .02), (1941.3, 15.19, .02), (1941.4, 15.22, .02), (1941.5, 16.08, .02),
    (1942.1, 15.42, .06), (1942.2, 15.78, .02), (1942.3, 14.92, .02), (1943.0, 15.73, .02),
    (1943.1, 15.45, .02), (1943.3, 15.38, .02), (1944.1, 15.37, .02), (1944.2, 15.06, .06),
    (1945.2, 15.19, .02), (1945.3, 15.38, .02), (1946.3, 15.51, .02), (1947.0, 14.80, .02),
    (1947.1, 14.85, .02), (1947.3, 15.45, .02), (1948.1, 14.69, .02), (1948.3, 15.27, .02),
    (1948.3, 15.34, .02), (1948.3, 15.47, .02), (1949.1, 15.83, .02), (1949.3, 15.51, .02),
    (1950.1, 16.08, .02), (1951.0, 15.36, .02), (1951.1, 15.28, .02), (1951.2, 15.22, .08),
    (1952.3, 14.99, .02),
    (1969.0, 15.32, .02), (1974.1, 14.88, .02), (1974.2, 15.63, .02), (1975.0, 15.34, .02),
    (1975.2, 14.61, .05), (1975.3, 14.71, .02), (1975.3, 14.96, .15), (1976.2, 14.78, .02),
    (1977.3, 15.16, .02), (1980.2, 14.67, .02), (1982.3, 14.38, .02), (1984.9, 14.33, .02),
    (1985.3, 14.29, .23), (1985.3, 14.48, .04), (1986.3, 14.45, .06), (1986.2, 14.89, .02),
    (1988.2, 14.72, .02),
    (2009.4, 15.09, .02), (2009.5, 15.31, .02), (2010.0, 15.17, .02), (2010.4, 15.17, .02),
    (2010.1, 14.85, .02), (2010.4, 14.85, .02), (2010.7, 15.29, .02), (2011.2, 15.29, .02),
    (2011.0, 15.48, .02), (2011.0, 15.52, .02), (2011.0, 15.57, .02), (2011.4, 15.65, .02),
    (2011.4, 15.72, .02), (2011.2, 15.40, .02), (2012.0, 15.09, .02), (2012.2, 14.87, .02),
    (2012.2, 14.93, .02), (2012.1, 14.98, .02), (2012.5, 14.86, .02), (2012.9, 14.88, .02),
    (2013.1, 14.92, .02), (2013.3, 14.96, .02), (2012.7, 14.99, .02), (2013.1, 15.10, .02),
    (2013.4, 15.50, .02), (2013.8, 15.06, .02), (2014.0, 15.10, .02), (2014.0, 15.32, .02),
    (2014.2, 15.45, .02), (2014.5, 15.45, .02), (2014.2, 15.22, .02), (2014.4, 15.24, .02),
    (2014.7, 15.23, .02), (2014.9, 15.26, .02), (2015.2, 15.27, .02), (2014.8, 15.17, .02),
    (2015.0, 15.10, .02), (2015.2, 15.05, .02), (2015.3, 15.02, .02), (2014.5, 15.32, .02),
    (2015.8, 15.67, .02), (2015.9, 15.79, .02), (2016.0, 15.88, .02), (2016.3, 15.92, .02),
    (2016.7, 15.92, .02), (2016.4, 16.09, .02), (2016.1, 15.94, .02), (2016.9, 15.75, .02),
    (2017.1, 15.56, .02), (2017.0, 15.50, .02), (2017.1, 15.41, .02), (2017.3, 15.32, .02),
    (2017.5, 15.28, .02), (2017.6, 15.60, .02), (2017.9, 15.65, .02), (2018.0, 15.62, .02),
    (2018.1, 15.68, .02), (2018.3, 15.64, .02), (2018.0, 15.75, .02), (2018.1, 15.77, .02),
    (2018.3, 15.75, .02), (2018.5, 15.86, .02), (2018.6, 15.89, .02), (2018.9, 15.47, .02),
    (2018.8, 15.23, .02), (2019.0, 15.20, .02), (2019.2, 15.17, .02), (2019.4, 15.11, .02),
    (2019.5, 15.24, .02), (2019.4, 15.37, .02), (2019.8, 15.19, .02), (2020.0, 15.19, .02),
    (2020.1, 15.17, .02), (2020.3, 15.22, .02), (2019.9, 15.06, .02), (2020.1, 15.02, .02),
    (2020.4, 14.98, .02), (2020.3, 15.11, .02), (2020.2, 14.88, .02), (2020.4, 15.23, .02),
    (2020.7, 15.42, .02), (2020.8, 15.46, .02), (2020.9, 15.32, .02), (2021.1, 15.33, .02),
    (2021.2, 15.36, .02), (2020.8, 15.55, .02), (2021.1, 15.55, .02), (2021.4, 15.55, .02),
    (2020.7, 15.65, .02), (2021.4, 15.67, .02), (2021.6, 15.74, .02), (2021.7, 15.78, .02),
    (2021.8, 15.82, .02), (2022.3, 15.91, .02), (2022.4, 15.60, .02), (2022.7, 15.61, .02),
    (2023.1, 15.61, .02), (2022.9, 15.47, .02), (2022.2, 16.23, .02), (2022.2, 16.33, .02),
    (2022.2, 16.55, .02),
])

object_names = ["AP Librae", "M 87", "MKN 180", "MKN 421", "MKN 501", "PG 1246+586"]
light_curves = [ap_librae, m87, mkn_180, mkn_421, mkn_501, pg_1246]
# (faint, bright) y-limits for the inverted magnitude axis, and tick step
mag_limits = [(15.74, 13.61), (11.51, 7.35), (15.29, 13.68),
              (14.43, 11.86), (14.64, 12.04), (16.66, 13.91)]
mag_steps = [1, 2, 1, 1, 1, 1]

plt.rcParams.update({
    "font.family": "serif",
    "font.serif": ["Liberation Serif", "DejaVu Serif"],
    "font.size": 16,
    "xtick.major.pad": 6,
})

fig, axes = plt.subplots(6, 1, figsize=(10.68, 13.21), dpi=100, sharex=True)
fig.subplots_adjust(left=72 / 1068, right=1078 / 1068,
                    top=1 - 6 / 1321, bottom=66 / 1321, hspace=35 / 179)

for ax, name, lc, lims, step in zip(axes, object_names, light_curves, mag_limits, mag_steps):
    ax.errorbar(lc[:, 0], lc[:, 1], yerr=lc[:, 2], fmt="o", ms=3.2,
                color="green", ecolor="green", elinewidth=1.5,
                label="Mag (V-band)")
    ax.set_ylim(*lims)
    ax.yaxis.set_major_locator(MultipleLocator(step))
    ax.legend(loc="upper left")
    ax.text(0.5, 0.958, name, transform=ax.transAxes, ha="center", va="top",
            zorder=10,
            bbox=dict(boxstyle="round,pad=0.2", facecolor="white", edgecolor="black"))

axes[-1].xaxis.set_major_locator(MultipleLocator(20))
axes[-1].set_xlabel("Time [year]", labelpad=8)
fig.supylabel("Mag", x=0.011, fontsize=16)

plt.savefig("out.png", dpi=100)
